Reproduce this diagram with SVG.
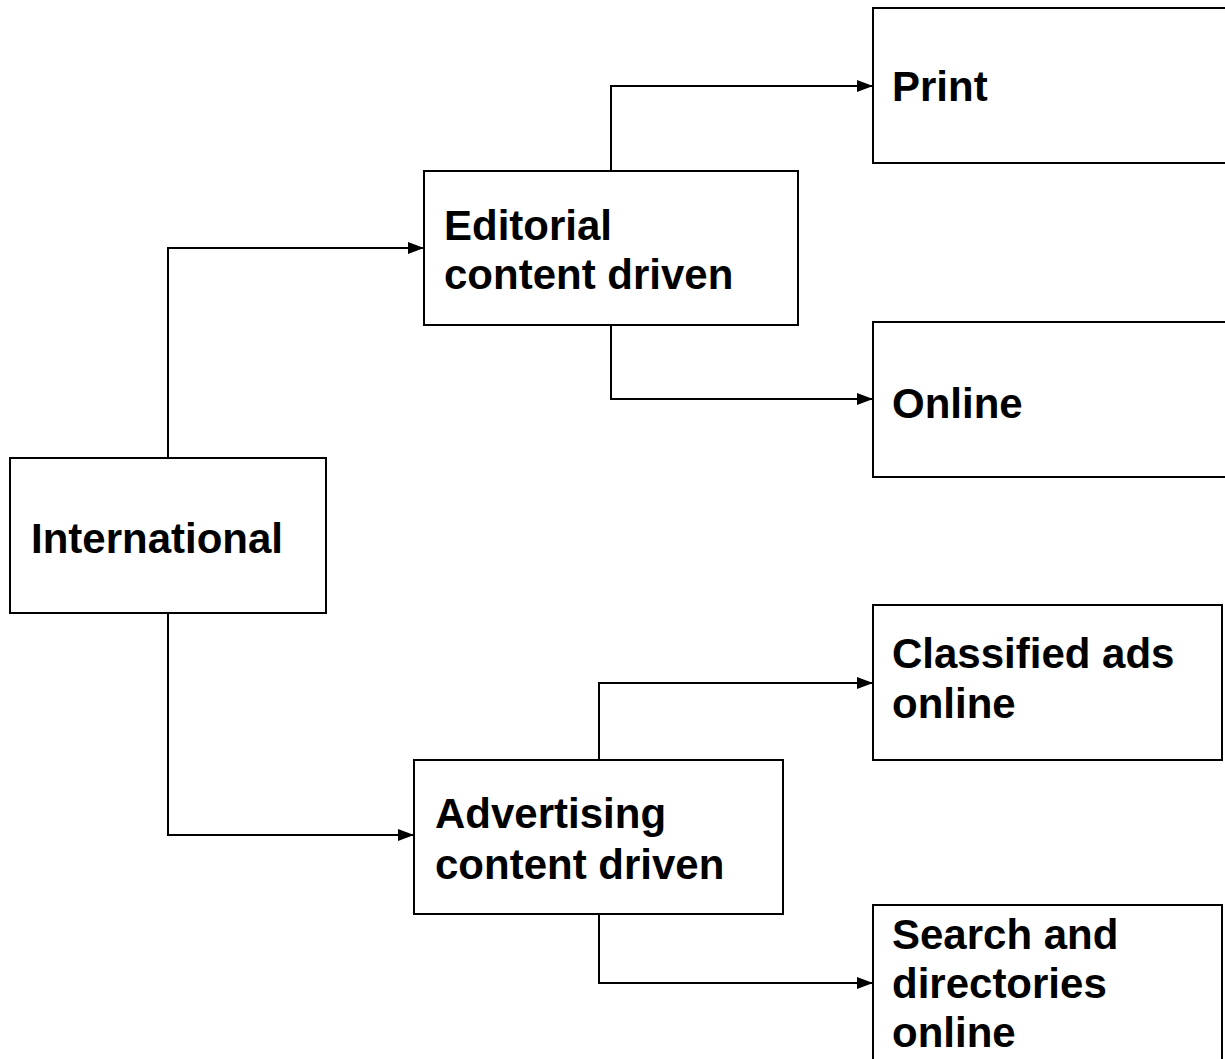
<svg xmlns="http://www.w3.org/2000/svg" width="1225" height="1059" viewBox="0 0 1225 1059">
<style>
.box{fill:#fff;stroke:#000;stroke-width:2}
.lbl{font-family:"Liberation Sans",Arial,sans-serif;font-weight:bold;font-size:42px;fill:#000}
.con{fill:none;stroke:#000;stroke-width:2}
</style>
<defs>
<marker id="arr" markerWidth="16" markerHeight="12" refX="16" refY="6" orient="auto" markerUnits="userSpaceOnUse">
<path d="M0,0 L16,6 L0,12 Z" fill="#000"/>
</marker>
</defs>
<rect width="1225" height="1059" fill="#fff"/>
<g id="connectors">
<path class="con" d="M168,458 V248 H424" marker-end="url(#arr)"/>
<path class="con" d="M168,613 V835 H414" marker-end="url(#arr)"/>
<path class="con" d="M611,171 V86 H873" marker-end="url(#arr)"/>
<path class="con" d="M611,325 V399 H873" marker-end="url(#arr)"/>
<path class="con" d="M599,760 V683 H873" marker-end="url(#arr)"/>
<path class="con" d="M599,914 V983 H873" marker-end="url(#arr)"/>
</g>
<g id="international">
<rect class="box" x="10" y="458" width="316" height="155"/>
<text class="lbl" x="31" y="553">International</text>
</g>
<g id="editorial">
<rect class="box" x="424" y="171" width="374" height="154"/>
<text class="lbl" x="444" y="240">Editorial</text>
<text class="lbl" x="444" y="289">content driven</text>
</g>
<g id="print">
<rect class="box" x="873" y="8" width="360" height="155"/>
<text class="lbl" x="892" y="101">Print</text>
</g>
<g id="online">
<rect class="box" x="873" y="322" width="360" height="155"/>
<text class="lbl" x="892" y="418">Online</text>
</g>
<g id="advertising">
<rect class="box" x="414" y="760" width="369" height="154"/>
<text class="lbl" x="435" y="828">Advertising</text>
<text class="lbl" x="435" y="879">content driven</text>
</g>
<g id="classified">
<rect class="box" x="873" y="605" width="349" height="155"/>
<text class="lbl" x="892" y="668">Classified ads</text>
<text class="lbl" x="892" y="718">online</text>
</g>
<g id="search">
<rect class="box" x="873" y="905" width="349" height="170"/>
<text class="lbl" x="892" y="949">Search and</text>
<text class="lbl" x="892" y="998">directories</text>
<text class="lbl" x="892" y="1047">online</text>
</g>
</svg>
